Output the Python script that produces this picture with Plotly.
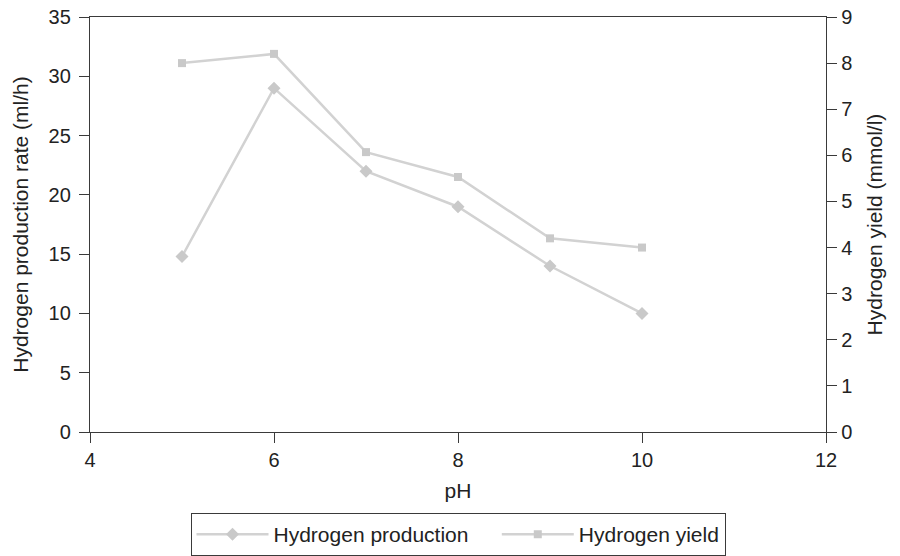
import plotly.graph_objects as go

# pH values tested and the two measured responses
ph = [5, 6, 7, 8, 9, 10]
production_rate = [14.8, 29.0, 22.0, 19.0, 14.0, 10.0]   # ml/h, left axis
hydrogen_yield = [8.0, 8.2, 6.07, 5.53, 4.2, 4.0]        # mmol/l, right axis
series_names = ["Hydrogen production", "Hydrogen yield"]

x_ticks = [4, 6, 8, 10, 12]
left_ticks = [0, 5, 10, 15, 20, 25, 30, 35]
right_ticks = list(range(0, 10))

FONT = "Liberation Sans, Arial, sans-serif"
AXIS_COLOR = "#3a3a3a"
LINE_COLOR = "#d2d2d2"
MARKER_COLOR = "#c9c9c9"
TEXT_COLOR = "#222222"
TICK_SIZE = 20
TITLE_SIZE = 21
ENTRY_PAD = "\u00a0" * 4  # extra space after the first legend entry

fig = go.Figure()

fig.add_trace(go.Scatter(
    x=ph, y=production_rate, name=series_names[0] + ENTRY_PAD,
    mode="lines+markers",
    line=dict(color=LINE_COLOR, width=2.5),
    marker=dict(symbol="diamond", size=10, color=MARKER_COLOR),
    yaxis="y",
))
fig.add_trace(go.Scatter(
    x=ph, y=hydrogen_yield, name=series_names[1],
    mode="lines+markers",
    line=dict(color=LINE_COLOR, width=2.5),
    marker=dict(symbol="square", size=8, color=MARKER_COLOR),
    yaxis="y2",
))

axis_common = dict(
    showgrid=False, zeroline=False, automargin=False,
    showline=True, linecolor=AXIS_COLOR, linewidth=1.3,
    ticks="outside", ticklen=10, tickwidth=1.2, tickcolor=AXIS_COLOR,
    tickfont=dict(family=FONT, size=TICK_SIZE, color=TEXT_COLOR),
)

fig.update_layout(
    width=900, height=556,
    margin=dict(l=90, r=74, t=17, b=124),
    paper_bgcolor="white", plot_bgcolor="white",
    font=dict(family=FONT, size=TICK_SIZE, color=TEXT_COLOR),
    xaxis=dict(
        range=[4, 12], tickvals=x_ticks,
        title=dict(text="pH", font=dict(family=FONT, size=TITLE_SIZE), standoff=13),
        mirror=True,
        **axis_common,
    ),
    yaxis=dict(
        range=[0, 35], tickvals=left_ticks,
        ticklabelstandoff=4,
        title=dict(text="Hydrogen production rate (ml/h)",
                   font=dict(family=FONT, size=TITLE_SIZE), standoff=14),
        **axis_common,
    ),
    yaxis2=dict(
        range=[0, 9], tickvals=right_ticks,
        overlaying="y", side="right",
        title=dict(text="Hydrogen yield (mmol/l)",
                   font=dict(family=FONT, size=TITLE_SIZE), standoff=16),
        **axis_common,
    ),
    legend=dict(
        orientation="h",
        x=0.5, xanchor="center", xref="paper",
        y=0, yanchor="bottom", yref="container",
        bordercolor=AXIS_COLOR, borderwidth=1,
        font=dict(family=FONT, size=TITLE_SIZE, color=TEXT_COLOR),
        itemwidth=72,
    ),
    showlegend=True,
)

fig.write_html("out.html")
